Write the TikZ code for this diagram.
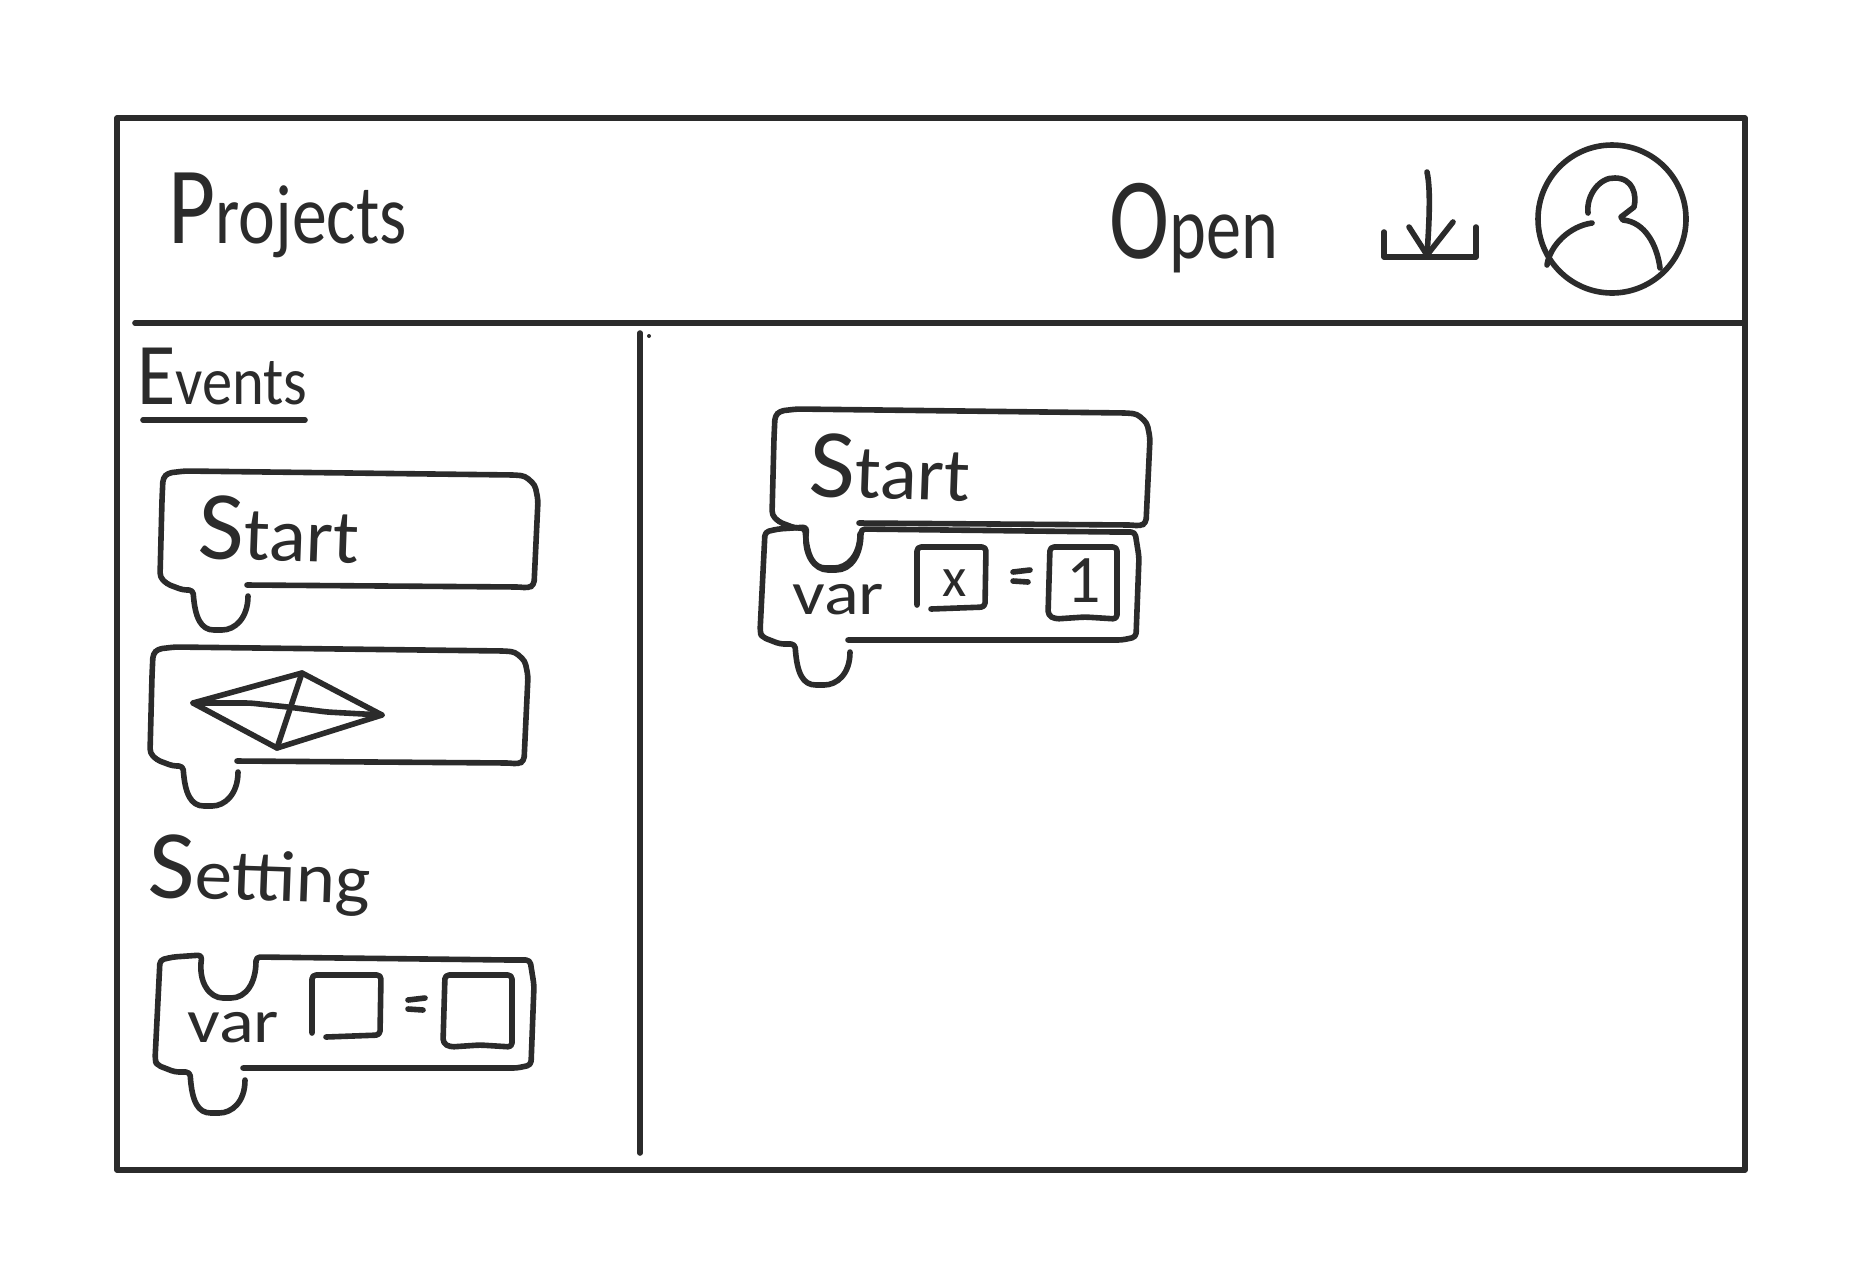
\documentclass[tikz,border=0pt]{standalone}
\usepackage{fontspec}
\setmainfont{Carlito}
\usepackage{xcolor}
\usepackage{tikz}
\definecolor{inkgray}{HTML}{2B2B2B}

\tikzset{
  ink/.style={draw=inkgray, line width=2.8pt, line cap=round, line join=round},
  wobble/.style={ink, rounded corners=2pt},
  hand/.style={inner sep=0pt, anchor=base west, text=inkgray, transform shape},
  % block with a rounded tab below
  hatblock/.pic={
    \draw[wobble] (85,118) .. controls (85,140) and (72,152) .. (55,152) .. controls (38,152) and (32,140) .. (30,112)
      -- (20,112) -- (4,106) -- (-3,99) -- (-1,22) -- (0,0) -- (5,-5) -- (22,-7) -- (352,-3)
      -- (362,-2) -- (372,7) -- (375,22) -- (371,107) -- (365,110) -- (357,109) -- (84,107);
  },
  % block with a notch on top, a tab below and two empty fields
  varblock/.pic={
    \draw[wobble] (85,122) .. controls (85,144) and (72,155) .. (55,155) .. controls (38,155) and (32,144) .. (30,114)
      -- (15,114) -- (-3,107) -- (-5,102) -- (0,2) -- (13,-1) -- (42,-3)
      .. controls (38,25) and (50,40) .. (67,40) .. controls (86,40) and (96,25) .. (96,-1)
      -- (350,2) -- (370,2) -- (374,27) -- (371,107) -- (357,110) -- (83,110);
    \node[hand, font=\fontsize{31}{34}\selectfont, xscale=1.17] (vartext) at (27,84) {var};
    \draw[wobble] (152,75) -- (152,17) -- (221,17) -- (220,77) -- (166,79);
    \draw[ink] (248,42) -- (265,40);
    \draw[ink] (248,51) -- (263,52);
    \draw[wobble] (285,17) -- (283,85) -- (290,89) -- (320,87) -- (352,89) -- (352,17) -- cycle;
  },
}

\begin{document}
\begin{tikzpicture}[x=0.5pt, y=-0.5pt]

  \useasboundingbox (0,0) rectangle (1863,1287);

  % ── Window frame ──
  \draw[ink] (117,118) rectangle (1745,1170);
  \draw[ink] (135,323) -- (1743,323);
  \draw[ink] (640,333) -- (640,1153);
  \fill[inkgray] (649,336) circle (2);

  % ── Header ──
  \node[hand, font=\fontsize{42}{50}\selectfont, xscale=0.83] (projects) at (168,243) {{\fontsize{55}{60}\selectfont P}rojects};
  \node[hand, font=\fontsize{45}{50}\selectfont, xscale=0.78] (open) at (1109,258) {{\fontsize{58}{60}\selectfont O}pen};

  % ── Download icon ──
  \draw[ink] (1384,232) -- (1384,257) -- (1476,257) -- (1476,227);
  \draw[ink] (1427,172) .. controls (1431,190) and (1429,225) .. (1427,255);
  \draw[ink] (1409,227) -- (1427,255) -- (1453,222);

  % ── Avatar icon ──
  \draw[ink] (1612,219) circle (74);
  \draw[ink] (1588,213) .. controls (1586,195) and (1600,177) .. (1615,178)
    .. controls (1633,178) and (1637,195) .. (1634,207) -- (1621,217) -- (1623,220)
    .. controls (1645,222) and (1657,245) .. (1660,268);
  \draw[ink] (1592,223) .. controls (1570,226) and (1550,245) .. (1547,265);

  % ── Events palette ──
  \node[hand, font=\fontsize{34}{38}\selectfont, xscale=0.89] (events) at (137,404) {{\fontsize{44}{46}\selectfont E}vents};
  \draw[ink] (143,420) -- (305,420);
  \pic at (163,478) {hatblock};
  \node[hand, font=\fontsize{38}{42}\selectfont, xscale=1.02, rotate=-2] (paletteStart) at (197,558) {{\fontsize{49}{52}\selectfont S}tart};
  \pic at (153,654) {hatblock};

  % ── Diamond in the second block ──
  \draw[ink] (193,703) -- (302,673) -- (382,715) -- (277,748) -- cycle;
  \draw[wobble] (193,703) -- (250,703) -- (288,707) -- (327,712) -- (382,715);
  \draw[ink] (302,673) -- (277,748);

  % ── Setting palette ──
  \node[hand, font=\fontsize{36}{40}\selectfont, xscale=1.04, rotate=-2] (setting) at (147,897) {{\fontsize{49}{52}\selectfont S}etting};
  \pic at (160,958) {varblock};

  % ── Canvas ──
  \pic at (775,416) {hatblock};
  \node[hand, font=\fontsize{38}{42}\selectfont, xscale=1.02, rotate=-2] (canvasStart) at (808,496) {{\fontsize{49}{52}\selectfont S}tart};
  \pic at (765,530) {varblock};
  \node[hand, font=\fontsize{28}{33}\selectfont] (fieldx) at (942,596) {x};
  \node[hand, font=\fontsize{34}{36}\selectfont] (fieldone) at (1066,602) {1};

\end{tikzpicture}
\end{document}
